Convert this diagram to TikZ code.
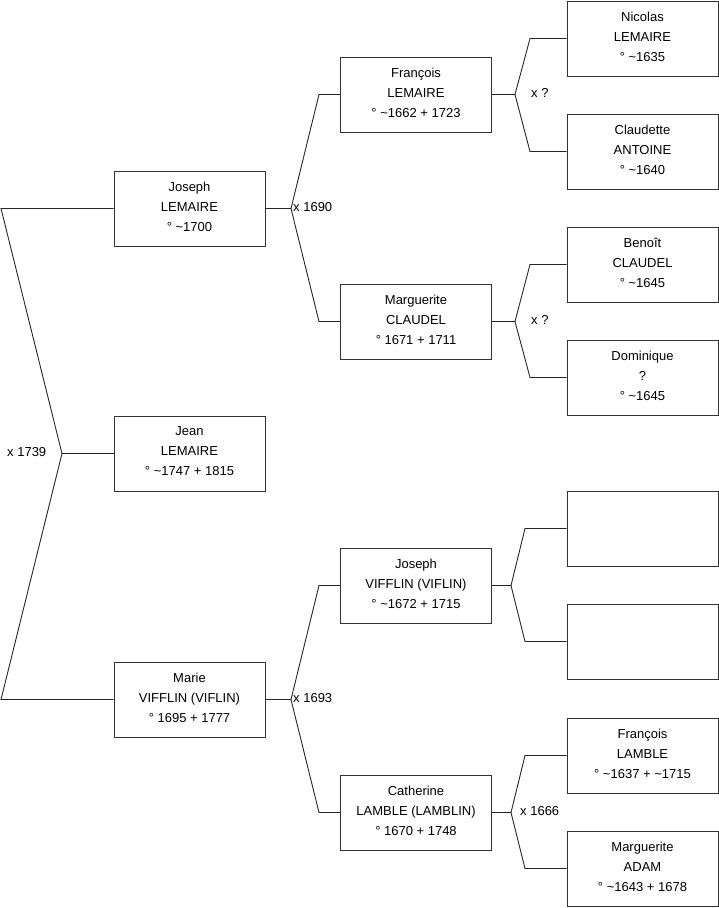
\documentclass[tikz,border=0pt]{standalone}
\usepackage{fontspec}
\setmainfont{Liberation Sans}
\begin{document}
\begin{tikzpicture}[x=1pt,y=-1pt,
  person/.style={draw=black!80,line width=0.9pt,minimum width=151pt,minimum height=75pt,inner sep=0pt,align=center,text depth=4pt,font=\fontsize{13}{20}\selectfont},
  link/.style={draw=black!85,line width=0.9pt},
  lbl/.style={font=\fontsize{13}{15}\selectfont,inner sep=0pt,anchor=west}]
\useasboundingbox (0,0) rectangle (719,908);
% column 1
\node[person] (jl) at (189.5,208.5) {Joseph\\LEMAIRE\\° \textasciitilde1700};
\node[person] (jean) at (189.5,453.5) {Jean\\LEMAIRE\\° \textasciitilde1747 + 1815};
\node[person] (mv) at (189.5,699.5) {Marie\\VIFFLIN (VIFLIN)\\° 1695 + 1777};
% column 2
\node[person] (fl) at (416,94.5) {François\\LEMAIRE\\° \textasciitilde1662 + 1723};
\node[person] (mc) at (416,321.5) {Marguerite\\CLAUDEL\\° 1671 + 1711};
\node[person] (jv) at (416,585.5) {Joseph\\VIFFLIN (VIFLIN)\\° \textasciitilde1672 + 1715};
\node[person] (cl) at (416,812.5) {Catherine\\LAMBLE (LAMBLIN)\\° 1670 + 1748};
% column 3
\node[person] (nl) at (642.5,38.5) {Nicolas\\LEMAIRE\\° \textasciitilde1635};
\node[person] (ca) at (642.5,151.5) {Claudette\\ANTOINE\\° \textasciitilde1640};
\node[person] (bc) at (642.5,264.5) {Benoît\\CLAUDEL\\° \textasciitilde1645};
\node[person] (dq) at (642.5,377.5) {Dominique\\?\\° \textasciitilde1645};
\node[person] (e1) at (642.5,528.5) {};
\node[person] (e2) at (642.5,641.5) {};
\node[person] (fla) at (642.5,755.5) {François\\LAMBLE\\° \textasciitilde1637 + \textasciitilde1715};
\node[person] (ma) at (642.5,868.5) {Marguerite\\ADAM\\° \textasciitilde1643 + 1678};
% root connector
\coordinate (r1) at (1,208.5);
\coordinate (r2) at (62,453.5);
\coordinate (r3) at (1,699.5);
\draw[link] (jl.west) -- (r1) -- (r2) -- (r3) -- (mv.west);
\draw[link] (r2) -- (jean.west);
\node[lbl] (m0) at (7,452) {x 1739};
% Joseph LEMAIRE parents
\coordinate (a0) at (291,208.5);
\draw[link] (jl.east) -- (a0) -- (319,94.5) -- (fl.west);
\draw[link] (a0) -- (319,321.5) -- (mc.west);
\node[lbl] (m1) at (293,207) {x 1690};
% Marie parents
\coordinate (b0) at (291,699.5);
\draw[link] (mv.east) -- (b0) -- (319,585.5) -- (jv.west);
\draw[link] (b0) -- (319,812.5) -- (cl.west);
\node[lbl] (m2) at (293,698) {x 1693};
% François parents
\coordinate (c0) at (515,94.5);
\draw[link] (fl.east) -- (c0) -- (530,38.5) -- (nl.west);
\draw[link] (c0) -- (530,151.5) -- (ca.west);
\node[lbl] (m3) at (531,93) {x ?};
% Marguerite parents
\coordinate (d0) at (515,321.5);
\draw[link] (mc.east) -- (d0) -- (530,264.5) -- (bc.west);
\draw[link] (d0) -- (530,377.5) -- (dq.west);
\node[lbl] (m4) at (531,320) {x ?};
% Joseph VIFFLIN parents
\coordinate (e0) at (511,585.5);
\draw[link] (jv.east) -- (e0) -- (525,528.5) -- (e1.west);
\draw[link] (e0) -- (525,641.5) -- (e2.west);
% Catherine parents
\coordinate (f0) at (511,812.5);
\draw[link] (cl.east) -- (f0) -- (525,755.5) -- (fla.west);
\draw[link] (f0) -- (525,868.5) -- (ma.west);
\node[lbl] (m5) at (520,811) {x 1666};
\end{tikzpicture}
\end{document}
